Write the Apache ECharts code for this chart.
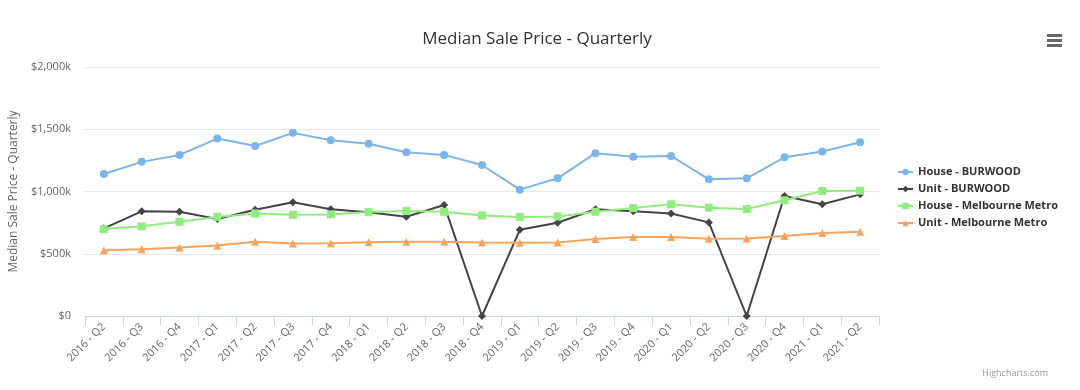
<!DOCTYPE html>
<html>
<head>
<meta charset="utf-8">
<script src="https://cdn.jsdelivr.net/npm/echarts@6/dist/echarts.min.js"></script>
<style>
html,body{margin:0;padding:0;background:#fff;}
#chart{width:1080px;height:390px;}
</style>
</head>
<body>
<div id="chart"></div>
<script>
var categories = ['2016 - Q2','2016 - Q3','2016 - Q4','2017 - Q1','2017 - Q2','2017 - Q3','2017 - Q4','2018 - Q1','2018 - Q2','2018 - Q3','2018 - Q4','2019 - Q1','2019 - Q2','2019 - Q3','2019 - Q4','2020 - Q1','2020 - Q2','2020 - Q3','2020 - Q4','2021 - Q1','2021 - Q2'];
var houseBurwood = [1141,1238,1294,1425,1366,1471,1412,1383,1316,1294,1213,1015,1106,1308,1280,1286,1098,1106,1275,1321,1396];
var unitBurwood = [704,841,837,779,854,913,857,833,797,891,0,692,749,857,841,824,752,0,964,897,977];
var houseMelbourne = [698,720,757,795,824,813,816,835,843,837,808,795,800,837,867,897,870,859,929,1004,1006];
var unitMelbourne = [529,537,551,567,596,583,585,593,596,596,591,588,591,618,634,634,620,623,642,666,676];
var yTicks = [0,500,1000,1500,2000];

var FONT = '"Open Sans", "DejaVu Sans", sans-serif';
var chart = echarts.init(document.getElementById('chart'));

function mkSeries(name, data, color, symbol, size) {
  return {
    name: name, type: 'line', data: data,
    symbol: symbol, symbolSize: size, showSymbol: true,
    lineStyle: {width: 2, color: color},
    itemStyle: {color: color},
    emphasis: {disabled: true},
    animation: false
  };
}

chart.setOption({
  animation: false,
  backgroundColor: '#fff',
  textStyle: {fontFamily: FONT},
  title: {
    text: 'Median Sale Price - Quarterly',
    left: 532, top: 26, textAlign: 'center',
    textStyle: {fontSize: 17, fontWeight: 'normal', color: '#333', fontFamily: FONT}
  },
  legend: {
    orient: 'vertical', left: 897, top: 165, padding: 0,
    itemWidth: 15, itemHeight: 8, itemGap: 3,
    textStyle: {fontSize: 11, fontWeight: 'bold', color: '#333', fontFamily: FONT, lineHeight: 14},
    data: ['House - BURWOOD','Unit - BURWOOD','House - Melbourne Metro','Unit - Melbourne Metro']
  },
  grid: {left: 79, right: 201, top: 67, bottom: 74},
  xAxis: {
    type: 'category', data: categories, boundaryGap: true,
    axisLine: {lineStyle: {color: '#ccd6eb', width: 1}},
    axisTick: {show: true, length: 10, lineStyle: {color: '#ccd6eb'}},
    axisLabel: {rotate: 45, color: '#666', fontSize: 11, fontFamily: FONT, margin: 9, interval: 0}
  },
  yAxis: {
    type: 'value', min: 0, max: 2000, interval: 500,
    name: 'Median Sale Price - Quarterly', nameLocation: 'middle', nameGap: 61,
    nameTextStyle: {color: '#666', fontSize: 12, fontFamily: FONT},
    axisLine: {show: false}, axisTick: {show: false},
    splitLine: {lineStyle: {color: '#e6e6e6', width: 1}},
    axisLabel: {
      color: '#666', fontSize: 11, fontFamily: FONT, margin: 14,
      formatter: function(v){
        if (yTicks.indexOf(v) < 0) return '';
        if (v === 0) return '$0';
        return '$' + v.toLocaleString('en-US') + 'k';
      }
    }
  },
  series: [
    mkSeries('House - BURWOOD', houseBurwood, '#7cb5ec', 'circle', 8),
    mkSeries('Unit - BURWOOD', unitBurwood, '#434348', 'diamond', 8),
    mkSeries('House - Melbourne Metro', houseMelbourne, '#90ed7d', 'rect', 8),
    mkSeries('Unit - Melbourne Metro', unitMelbourne, '#f7a35c', 'triangle', 8)
  ],
  graphic: [
    {type: 'rect', shape: {x: 1047, y: 34, width: 15, height: 3}, style: {fill: '#666'}},
    {type: 'rect', shape: {x: 1047, y: 39, width: 15, height: 3}, style: {fill: '#666'}},
    {type: 'rect', shape: {x: 1047, y: 44, width: 15, height: 3}, style: {fill: '#666'}},
    {type: 'text', right: 32, top: 369, style: {text: 'Highcharts.com', fontSize: 9, fill: '#999', fontFamily: FONT}}
  ]
});
</script>
</body>
</html>
